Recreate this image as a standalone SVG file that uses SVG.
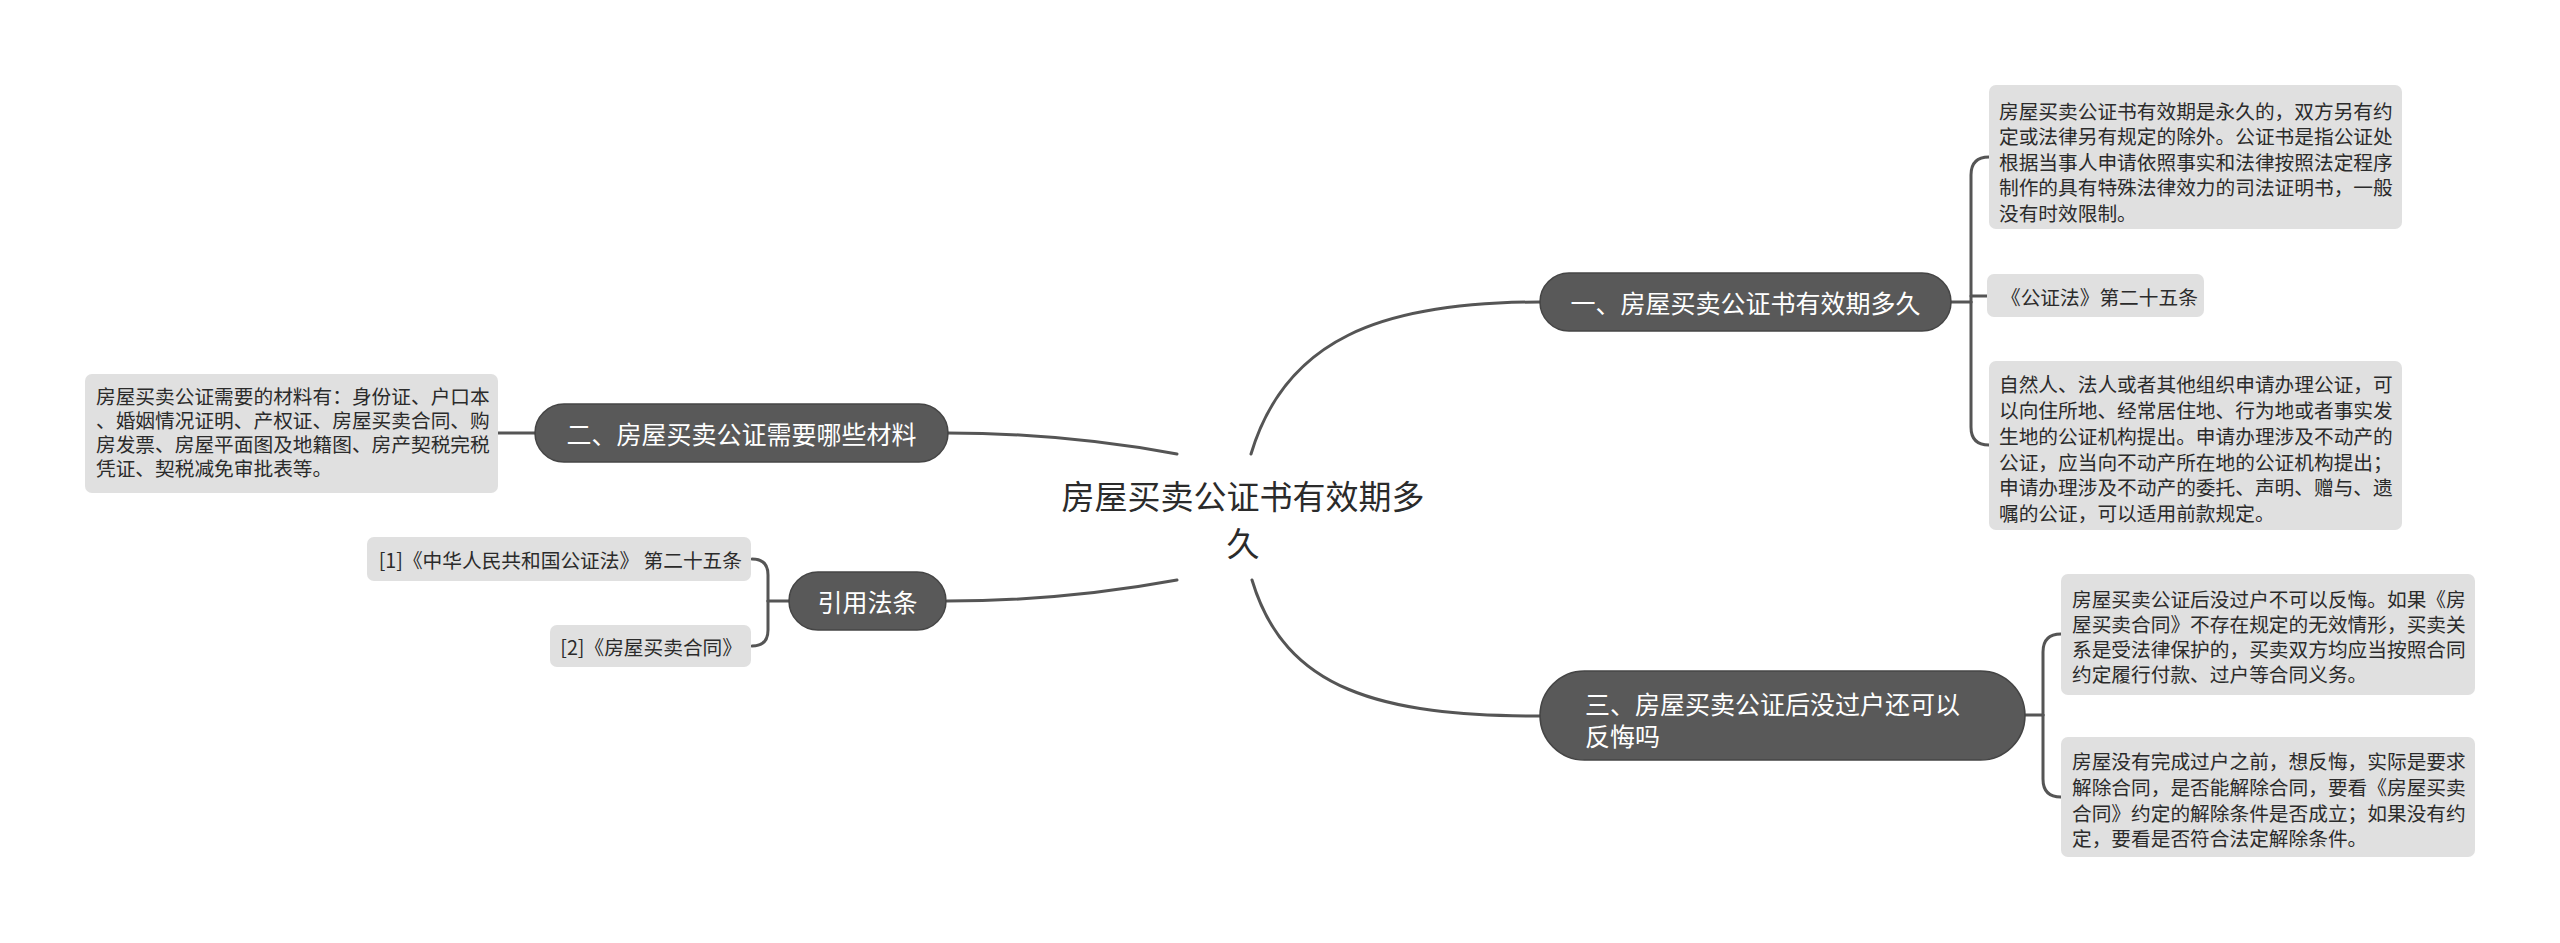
<svg xmlns="http://www.w3.org/2000/svg" width="2560" height="943" viewBox="0 0 2560 943">
<style>
.bg{fill:#ffffff}
.main{fill:#595959;stroke:#454545;stroke-width:1.5}
.sub{fill:#e0e0e0}
.ln{fill:none;stroke:#555555;stroke-width:3;stroke-linecap:round}
text{font-family:"Noto Sans CJK SC","Noto Sans",sans-serif;dominant-baseline:central}
.mt{fill:#ffffff;font-size:25px}
.st{fill:#2b2b2b;font-size:19.7px}
.ct{fill:#2b2b2b;font-size:33px}
</style>
<rect class="bg" x="0" y="0" width="2560" height="943"/>
<g id="connectors">
<path class="ln" d="M1251,454 C1285,340 1380,302 1540,302"/>
<path class="ln" d="M1252,580 C1285,690 1380,716 1540,716"/>
<path class="ln" d="M1177,454 C1090,438 1010,433 947,433"/>
<path class="ln" d="M1177,580 C1090,596 1010,601 947,601"/>
<path class="ln" d="M1951,302 H1971"/>
<path class="ln" d="M1971,302 V175 Q1971,157 1989,157"/>
<path class="ln" d="M1971,296 H1987"/>
<path class="ln" d="M1971,302 V427 Q1971,445 1989,445"/>
<path class="ln" d="M535,433 H498"/>
<path class="ln" d="M789,601 H768"/>
<path class="ln" d="M768,601 V575 Q768,559 752,559"/>
<path class="ln" d="M768,601 V630 Q768,646 752,646"/>
<path class="ln" d="M2025,715 H2043"/>
<path class="ln" d="M2043,715 V652 Q2043,634 2061,634"/>
<path class="ln" d="M2043,715 V779 Q2043,797 2061,797"/>
</g>
<g id="center">
<text class="ct" x="1243" y="495" text-anchor="middle">房屋买卖公证书有效期多</text>
<text class="ct" x="1243" y="542" text-anchor="middle">久</text>
</g>
<g id="n1">
<rect class="main" x="1540" y="273" width="411" height="58" rx="29"/>
<text class="mt" x="1745.5" y="302" text-anchor="middle">一、房屋买卖公证书有效期多久</text>
</g>
<g id="n1a">
<rect class="sub" x="1989" y="85" width="413" height="144" rx="7"/>
<text class="st" x="1999" y="110">房屋买卖公证书有效期是永久的，双方另有约</text>
<text class="st" x="1999" y="135.5">定或法律另有规定的除外。公证书是指公证处</text>
<text class="st" x="1999" y="161">根据当事人申请依照事实和法律按照法定程序</text>
<text class="st" x="1999" y="186.5">制作的具有特殊法律效力的司法证明书，一般</text>
<text class="st" x="1999" y="212">没有时效限制。</text>
</g>
<g id="n1b">
<rect class="sub" x="1987" y="274" width="217" height="43" rx="7"/>
<text class="st" x="2001" y="296">《公证法》第二十五条</text>
</g>
<g id="n1c">
<rect class="sub" x="1989" y="361" width="413" height="169" rx="7"/>
<text class="st" x="1999" y="383">自然人、法人或者其他组织申请办理公证，可</text>
<text class="st" x="1999" y="409">以向住所地、经常居住地、行为地或者事实发</text>
<text class="st" x="1999" y="435">生地的公证机构提出。申请办理涉及不动产的</text>
<text class="st" x="1999" y="461">公证，应当向不动产所在地的公证机构提出；</text>
<text class="st" x="1999" y="486">申请办理涉及不动产的委托、声明、赠与、遗</text>
<text class="st" x="1999" y="512">嘱的公证，可以适用前款规定。</text>
</g>
<g id="n2">
<rect class="main" x="535" y="404" width="413" height="58" rx="29"/>
<text class="mt" x="741.5" y="433" text-anchor="middle">二、房屋买卖公证需要哪些材料</text>
</g>
<g id="n2a">
<rect class="sub" x="85" y="374" width="413" height="119" rx="7"/>
<text class="st" x="96" y="395">房屋买卖公证需要的材料有：身份证、户口本</text>
<text class="st" x="96" y="419">、婚姻情况证明、产权证、房屋买卖合同、购</text>
<text class="st" x="96" y="443">房发票、房屋平面图及地籍图、房产契税完税</text>
<text class="st" x="96" y="467">凭证、契税减免审批表等。</text>
</g>
<g id="n3">
<rect class="main" x="1540" y="671" width="485" height="89" rx="44.5"/>
<text class="mt" x="1585" y="703">三、房屋买卖公证后没过户还可以</text>
<text class="mt" x="1585" y="735">反悔吗</text>
</g>
<g id="n3a">
<rect class="sub" x="2061" y="574" width="414" height="121" rx="7"/>
<text class="st" x="2072" y="598">房屋买卖公证后没过户不可以反悔。如果《房</text>
<text class="st" x="2072" y="623">屋买卖合同》不存在规定的无效情形，买卖关</text>
<text class="st" x="2072" y="648">系是受法律保护的，买卖双方均应当按照合同</text>
<text class="st" x="2072" y="673">约定履行付款、过户等合同义务。</text>
</g>
<g id="n3b">
<rect class="sub" x="2061" y="737" width="414" height="120" rx="7"/>
<text class="st" x="2072" y="760">房屋没有完成过户之前，想反悔，实际是要求</text>
<text class="st" x="2072" y="786">解除合同，是否能解除合同，要看《房屋买卖</text>
<text class="st" x="2072" y="812">合同》约定的解除条件是否成立；如果没有约</text>
<text class="st" x="2072" y="837">定，要看是否符合法定解除条件。</text>
</g>
<g id="n4">
<rect class="main" x="789" y="572" width="157" height="58" rx="29"/>
<text class="mt" x="867.5" y="601" text-anchor="middle">引用法条</text>
</g>
<g id="n4a">
<rect class="sub" x="367" y="537" width="384" height="44" rx="7"/>
<text class="st" x="742" y="559" text-anchor="end">[1]《中华人民共和国公证法》 第二十五条</text>
</g>
<g id="n4b">
<rect class="sub" x="550" y="625" width="201" height="42" rx="7"/>
<text class="st" x="742" y="646" text-anchor="end">[2]《房屋买卖合同》</text>
</g>
</svg>
